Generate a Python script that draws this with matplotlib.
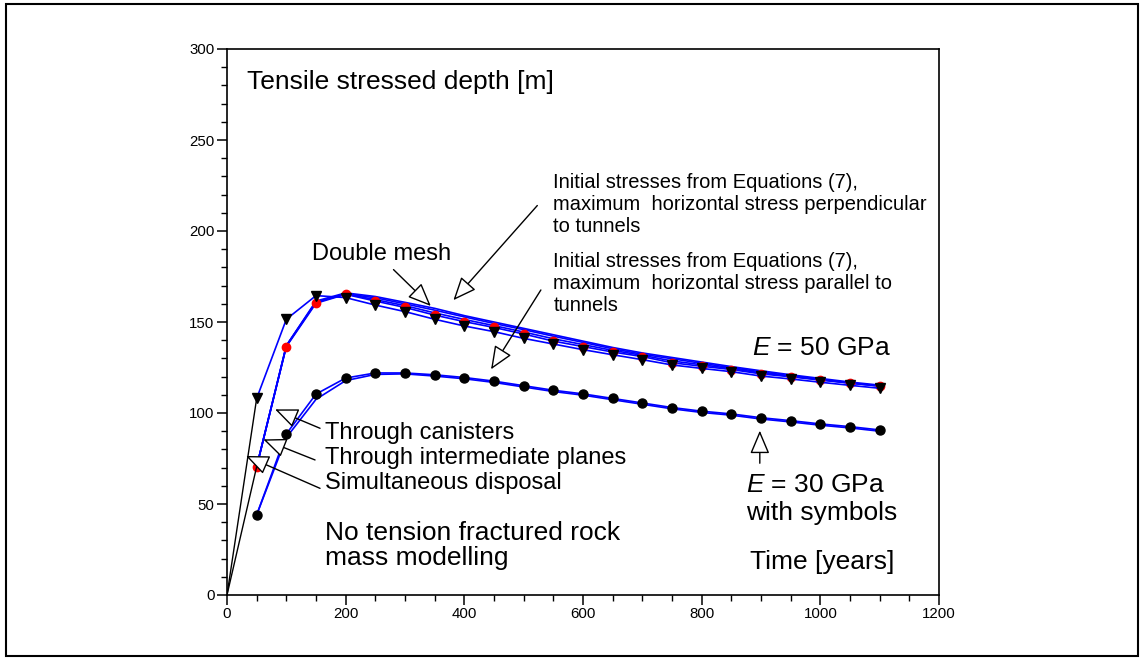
import matplotlib
matplotlib.use("Agg")
import matplotlib.pyplot as plt
from matplotlib.patches import Rectangle
from matplotlib.ticker import MultipleLocator

plt.rcParams['font.family'] = ['Liberation Sans', 'DejaVu Sans']
plt.rcParams['mathtext.fontset'] = 'custom'
plt.rcParams['mathtext.it'] = 'Liberation Sans:italic'
plt.rcParams['mathtext.rm'] = 'Liberation Sans'

# ---- data ----
time = [50, 100, 150, 200, 250, 300, 350, 400, 450, 500, 550, 600, 650, 700,
        750, 800, 850, 900, 950, 1000, 1050, 1100]

e50_triangles = [108, 151.5, 164.5, 163.4, 159.3, 155.7, 151.5, 147.8, 144.7, 141,
                 137.9, 134.8, 132, 129.3, 126.4, 124.5, 122.7, 120.3, 118.7, 116.9,
                 115.2, 113.6]
e50_red = [70.5, 136.5, 160.3, 165.2, 161.5, 158, 153.8, 150.2, 147, 143.4, 139.5,
           136.5, 133.5, 131, 127.6, 125.7, 123.9, 121.5, 119.9, 118.1, 116.4, 114.8]
e50_perp = [70.5, 137, 161.5, 166, 164, 160.8, 157.5, 153.5, 150, 146.5, 143, 139.5,
            136, 133, 130.5, 128, 125.5, 123.2, 121, 119, 117, 115.3]
e50_double = [70.5, 137, 161, 165.5, 163.3, 160, 156.5, 152.8, 149.2, 145.8, 142.2,
              138.8, 135.3, 132.3, 129.8, 127.3, 124.9, 122.6, 120.4, 118.5, 116.5, 114.9]
e50_inter = [70.5, 136.8, 160.8, 165.4, 162.3, 159, 155, 151.4, 148, 144.5, 140.8,
             137.6, 134.4, 131.7, 128.6, 126.5, 124.4, 122, 120.2, 118.3, 116.5, 114.8]

e30_circles = [44, 88.5, 110.4, 119.2, 122, 122, 121, 119.5, 117.5, 115, 112.5, 110.5,
               108, 105.5, 103, 101, 99.5, 97.4, 95.8, 94, 92.5, 90.7]
e30_second = [44, 86.5, 107.5, 117.8, 121.2, 121.5, 120.3, 118.8, 116.8, 114.3, 111.8,
              109.8, 107.3, 104.8, 102.3, 100.3, 98.8, 96.7, 95.1, 93.3, 91.8, 90.0]

start_time = [0, 50]
start_tri = [0, 108]
start_red = [0, 70.5]

# ---- figure ----
fig = plt.figure(figsize=(11.46, 6.63), dpi=100)
ax = fig.add_axes([227 / 1146, 1 - 595 / 663, (939 - 227) / 1146, (595 - 49) / 663])

blue = '#0000ff'
lw = 1.2
ax.plot(time, e30_second, color=blue, lw=lw)
ax.plot(time, e30_circles, color=blue, lw=lw, marker='o', ms=6.5,
        mfc='black', mec='black')
ax.plot(time, e50_perp, color=blue, lw=lw)
ax.plot(time, e50_double, color=blue, lw=lw)
ax.plot(time, e50_inter, color=blue, lw=lw)
ax.plot(time, e50_red, color=blue, lw=lw, marker='o', ms=6,
        mfc='red', mec='red')
ax.plot(time, e50_triangles, color=blue, lw=lw, marker='v', ms=7.5,
        mfc='black', mec='black')
ax.plot(start_time, start_tri, color='black', lw=1)
ax.plot(start_time, start_red, color='black', lw=1)

ax.set_xlim(0, 1200)
ax.set_ylim(0, 300)
ax.xaxis.set_major_locator(MultipleLocator(200))
ax.xaxis.set_minor_locator(MultipleLocator(50))
ax.yaxis.set_major_locator(MultipleLocator(50))
ax.yaxis.set_minor_locator(MultipleLocator(10))
ax.tick_params(which='major', direction='out', length=7, width=1.1, labelsize=10.8,
               pad=2)
ax.tick_params(which='minor', direction='out', length=4, width=1.0)
for s in ax.spines.values():
    s.set_linewidth(1.2)

big = 17
large = 19
small = 14.5
ax.text(33, 282, 'Tensile stressed depth [m]', fontsize=large, va='center')
ax.text(143, 187.5, 'Double mesh', fontsize=big, va='center')
ax.text(550, 214.5, 'Initial stresses from Equations (7),\n'
        'maximum  horizontal stress perpendicular\nto tunnels',
        fontsize=small, va='center', linespacing=1.2)
ax.text(550, 171.3, 'Initial stresses from Equations (7),\n'
        'maximum  horizontal stress parallel to\ntunnels',
        fontsize=small, va='center', linespacing=1.2)
ax.text(885, 135.5, r'$E$ = 50 GPa', fontsize=large, va='center')
ax.text(165, 88.8, 'Through canisters', fontsize=big, va='center')
ax.text(165, 75.1, 'Through intermediate planes', fontsize=big, va='center')
ax.text(165, 61.4, 'Simultaneous disposal', fontsize=big, va='center')
ax.text(165, 33.9, 'No tension fractured rock', fontsize=large, va='center')
ax.text(165, 20.2, 'mass modelling', fontsize=large, va='center')
ax.text(875, 60.4, r'$E$ = 30 GPa', fontsize=large, va='center')
ax.text(875, 45.2, 'with symbols', fontsize=large, va='center')
ax.text(882, 18.3, 'Time [years]', fontsize=large, va='center')

aprops = dict(arrowstyle='-|>,head_length=0.9,head_width=0.38', fc='white',
              ec='black', lw=1, shrinkA=0, shrinkB=0, mutation_scale=16)
arrows = [((280.6, 178.8), (343.5, 158.8)),
          ((523, 214), (381.6, 162)),
          ((529, 167.6), (445, 124)),
          ((156.8, 91.6), (81, 102)),
          ((148.4, 74.2), (61.2, 85.5)),
          ((156.8, 58.6), (32, 76.4)),
          ((898, 72.4), (898, 90.3))]
for tail, tip in arrows:
    ax.annotate('', xy=tip, xytext=tail, arrowprops=aprops)

fig.patches.append(Rectangle((6 / 1146, 1 - 656 / 663), 1132 / 1146, 652 / 663,
                             transform=fig.transFigure, fill=False,
                             ec='black', lw=1.5))

fig.savefig('out.png', dpi=100)
